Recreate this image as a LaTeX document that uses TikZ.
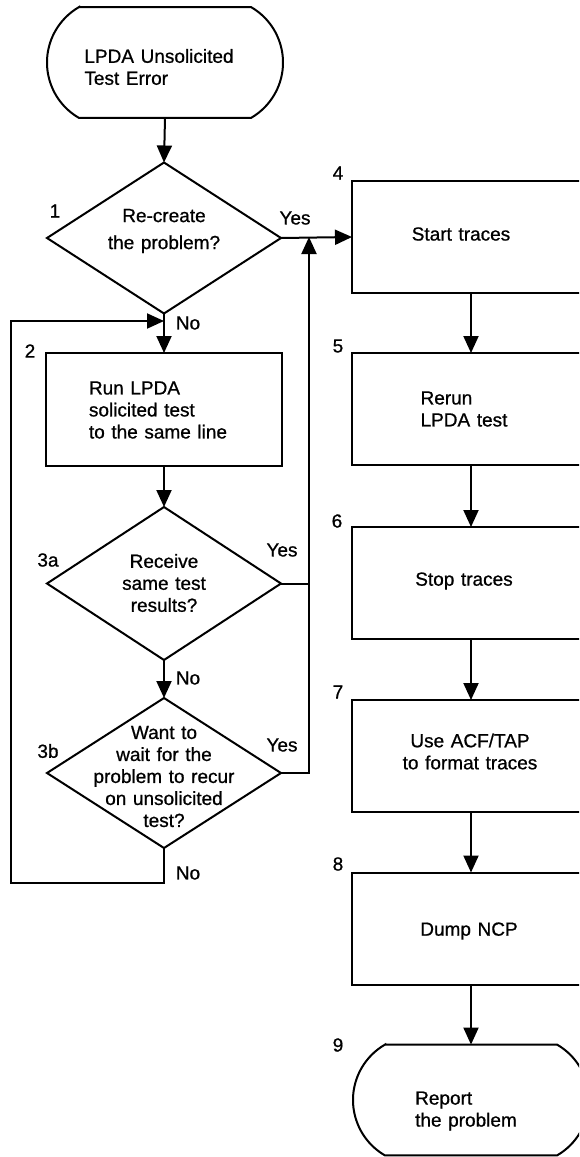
\documentclass[tikz,border=0pt]{standalone}
\usepackage{fontspec}
\setmainfont{Liberation Sans}[FakeBold=0.8,WordSpace=1.25]
\usetikzlibrary{shapes.geometric,arrows.meta,calc}

% outline of a terminal (flat top and bottom, shallow arcs at the ends)
\newcommand\pilloutline[1]{%
  \draw[line width=2pt]
    ($(#1.north west)+(32,0)$) -- ($(#1.north east)+(-32,0)$)
    arc[start angle=60,end angle=-60,radius=64]
    -- ($(#1.south west)+(32,0)$)
    arc[start angle=240,end angle=120,radius=64] -- cycle;}

\begin{document}
\begin{tikzpicture}[x=1pt,y=1pt,
  every node/.style={font=\fontsize{19}{22}\selectfont},
  flow/.style={line width=2pt, draw=black},
  arr/.style={flow, -{Triangle[length=17pt,width=15pt]}},
  stepbox/.style={draw, line width=2pt, minimum width=238pt,
    minimum height=112pt, inner sep=0pt, outer sep=0pt},
  decision/.style={diamond, draw, line width=2pt, minimum width=234pt,
    minimum height=151pt, inner sep=0pt, outer sep=0pt},
  pillframe/.style={minimum width=236pt, minimum height=110.85pt,
    inner sep=0pt, outer sep=0pt},
  txt/.style={align=center, inner sep=0pt},
  num/.style={inner sep=0pt}
]
\useasboundingbox (0,0) rectangle (579,-1157);
\clip (0,0) rectangle (579,-1157);

% ---- left column -------------------------------------------------
\node[pillframe] (start) at (165,-62.5) {};
\pilloutline{start}
\node[txt,align=left] (startlbl) at (159,-67) {LPDA Unsolicited\\Test Error};

\node[decision] (d1) at (164,-238) {};
\node[txt,font=\fontsize{19}{27}\selectfont] (d1lbl) at (164,-231) {Re-create\\the problem?};
\node[num] (n1) at (55,-211) {1};

\node[stepbox,minimum width=236pt,minimum height=113pt] (s2) at (164,-409.5) {};
\node[txt,align=left] (s2lbl) at (158,-410) {Run LPDA\\solicited test\\to the same line};
\node[num] (n2) at (30,-351) {2};

\node[decision,minimum height=153pt] (d3a) at (164,-583.5) {};
\node[txt] (d3albl) at (164,-583) {Receive\\same test\\results?};
\node[num] (n3a) at (48,-560) {3a};

\node[decision,minimum height=150pt] (d3b) at (164,-773) {};
\node[txt] (d3blbl) at (164,-776.5) {Want to\\wait for the\\problem to recur\\on unsolicited\\test?};
\node[num] (n3b) at (48,-751) {3b};

% ---- right column ------------------------------------------------
\node[stepbox] (s4) at (471,-237) {};
\node[txt] (s4lbl) at (461,-234) {Start traces};
\node[num] (n4) at (338,-173) {4};

\node[stepbox] (s5) at (471,-409) {};
\node[txt,align=left] (s5lbl) at (464,-409) {Rerun\\LPDA test};
\node[num] (n5) at (338,-346) {5};

\node[stepbox] (s6) at (471,-583) {};
\node[txt] (s6lbl) at (464,-581) {Stop traces};
\node[num] (n6) at (337,-521) {6};

\node[stepbox] (s7) at (471,-756) {};
\node[txt] (s7lbl) at (470,-751.5) {Use ACF/TAP\\to format traces};
\node[num] (n7) at (338,-692) {7};

\node[stepbox] (s8) at (471,-928.5) {};
\node[txt] (s8lbl) at (469,-931) {Dump NCP};
\node[num] (n8) at (338,-864) {8};

\node[pillframe] (s9) at (471,-1100) {};
\pilloutline{s9}
\node[txt,align=left] (s9lbl) at (466,-1111) {Report\\the problem};
\node[num] (n9) at (338,-1045) {9};

% ---- branch labels -----------------------------------------------
\node[num] (y1) at (295,-218) {Yes};
\node[num] (y3a) at (282,-550) {Yes};
\node[num] (y3b) at (282,-745) {Yes};
\node[num] (no1) at (188,-323) {No};
\node[num] (no3a) at (188,-678) {No};
\node[num] (no3b) at (188,-873) {No};

% ---- connectors --------------------------------------------------
\coordinate (jx) at (309,-237);
\coordinate (loopbot) at (164,-883);
\coordinate (loopleft) at (11,-883);
\coordinate (looptop) at (11,-321);
\coordinate (loopin) at (164,-321);

\draw[arr] (start.south) -- (d1.north);
\draw[arr] (d1.east) -- (s4.west);
\draw[arr] (d1.south) -- (s2.north);
\draw[arr] (s2.south) -- (d3a.north);
\draw[arr] (d3a.south) -- (d3b.north);
\draw[flow] (d3a.east) -- (d3a.east -| jx);
\draw[arr] (d3b.east) -| (jx);
\draw[arr] (d3b.south) -- (loopbot) -- (loopleft) -- (looptop) -- (loopin);

\draw[arr] (s4.south) -- (s5.north);
\draw[arr] (s5.south) -- (s6.north);
\draw[arr] (s6.south) -- (s7.north);
\draw[arr] (s7.south) -- (s8.north);
\draw[arr] (s8.south) -- (s9.north);
\end{tikzpicture}
\end{document}
